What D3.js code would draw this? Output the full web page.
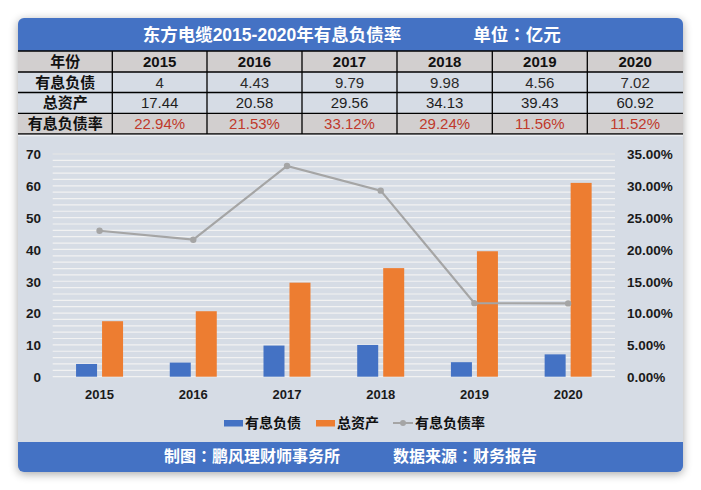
<!DOCTYPE html>
<html><head><meta charset="utf-8">
<script src="https://cdn.jsdelivr.net/npm/d3@7"></script>
<style>
html,body{margin:0;padding:0;background:#fff;}
svg{display:block;}
text{font-family:"Liberation Sans","Noto Sans CJK SC",Arial,sans-serif;}
</style></head>
<body>
<svg id="c" width="701" height="490"></svg>
<script>
const years = ["2015","2016","2017","2018","2019","2020"];
const debt = [4, 4.43, 9.79, 9.98, 4.56, 7.02];
const assets = [17.44, 20.58, 29.56, 34.13, 39.43, 60.92];
const ratio = [22.94, 21.53, 33.12, 29.24, 11.56, 11.52];
const debtLabels = ["4","4.43","9.79","9.98","4.56","7.02"];
const assetLabels = ["17.44","20.58","29.56","34.13","39.43","60.92"];
const ratioLabels = ["22.94%","21.53%","33.12%","29.24%","11.56%","11.52%"];
const leftTicks = [0,10,20,30,40,50,60,70];
const rightTicks = [0,5,10,15,20,25,30,35];
const rowNames = ["年份","有息负债","总资产","有息负债率"];
const seriesNames = ["有息负债","总资产","有息负债率"];
const title = "东方电缆2015-2020年有息负债率";
const unit = ["单位","：","亿元"];
const footL = ["制图","：","鹏风理财师事务所"];
const footR = ["数据来源","：","财务报告"];

const svg = d3.select("#c");
const blue = "#4472C4", orange = "#ED7D31", gray = "#A5A5A5";
const L = 18, R = 683, T = 18, B = 472;

const defs = svg.append("defs");
const f = defs.append("filter").attr("id","sh").attr("x","-10%").attr("y","-10%").attr("width","120%").attr("height","120%");
f.append("feGaussianBlur").attr("in","SourceAlpha").attr("stdDeviation",5);
f.append("feOffset").attr("dx",0).attr("dy",2).attr("result","b");
f.append("feComponentTransfer").append("feFuncA").attr("type","linear").attr("slope",0.35);
const m = f.append("feMerge"); m.append("feMergeNode"); m.append("feMergeNode").attr("in","SourceGraphic");
const clip = defs.append("clipPath").attr("id","card");
clip.append("rect").attr("x",L).attr("y",T).attr("width",R-L).attr("height",B-T).attr("rx",6);

svg.append("rect").attr("x",L).attr("y",T).attr("width",R-L).attr("height",B-T).attr("rx",6)
  .attr("fill","#d6dce5").attr("filter","url(#sh)");
const g = svg.append("g").attr("clip-path","url(#card)");

function colonText(parent, xx, yy, parts, size){
  const t = parent.append("text").attr("x",xx).attr("y",yy).attr("text-anchor","middle").attr("fill","#fff")
    .attr("font-size",size).attr("font-weight","bold");
  t.append("tspan").text(parts[0]);
  t.append("tspan").style("font-family","'Noto Sans CJK JP'").text(parts[1]);
  t.append("tspan").text(parts[2]);
  return t;
}

// header
g.append("rect").attr("x",L).attr("y",T).attr("width",R-L).attr("height",33).attr("fill",blue);
g.append("text").attr("x",272).attr("y",40.5).attr("text-anchor","middle").attr("fill","#fff")
  .attr("font-size",17.5).attr("font-weight","bold").text(title);
colonText(g, 517, 40.5, unit, 17.5);

// table
const colX = [18,112.3,207,302,397,492.3,587.3,683];
const rowY = [51,72,92.5,113.3,134];
const rows = [
  {cells: years, bg:"#d2cfcf", color:"#111", bold:true},
  {cells: debtLabels, bg:"#d6dce5", color:"#2a2a2a", bold:false},
  {cells: assetLabels, bg:"#d6dce5", color:"#1e1e1e", bold:false},
  {cells: ratioLabels, bg:"#d2cfcf", color:"#c0392b", bold:false}
];
rows.forEach((r,i)=>{
  const y0 = rowY[i], y1 = rowY[i+1];
  g.append("rect").attr("x",L).attr("y",y0).attr("width",R-L).attr("height",y1-y0).attr("fill",r.bg);
  g.append("text").attr("x",(colX[0]+colX[1])/2).attr("y",(y0+y1)/2+5.5).attr("text-anchor","middle")
    .attr("font-size",15).attr("font-weight","bold").attr("fill","#111").text(rowNames[i]);
  r.cells.forEach((c,j)=>{
    g.append("text").attr("x",(colX[j+1]+colX[j+2])/2).attr("y",(y0+y1)/2+5.5).attr("text-anchor","middle")
      .attr("font-size",15).attr("font-weight",r.bold?"bold":"normal").attr("fill",r.color).text(c);
  });
});
rowY.forEach(y=>g.append("line").attr("x1",L).attr("x2",R).attr("y1",y).attr("y2",y).attr("stroke","#000").attr("stroke-width",1.3));
colX.slice(1,-1).forEach(x=>g.append("line").attr("x1",x).attr("x2",x).attr("y1",rowY[0]).attr("y2",rowY[4]).attr("stroke","#000").attr("stroke-width",1.3));
g.append("line").attr("x1",L).attr("x2",R).attr("y1",135.5).attr("y2",135.5).attr("stroke","#eef0f4").attr("stroke-width",1.5);

// chart
const px0 = 52.7, px1 = 615, py0 = 376.7, py1 = 154;
const x = d3.scaleBand().domain(years).range([px0,px1]).padding(0);
const yL = d3.scaleLinear().domain([0,70]).range([py0,py1]);
const yR = d3.scaleLinear().domain([0,35]).range([py0,py1]);

d3.range(0,71,2).forEach(v=>{
  g.append("line").attr("x1",px0).attr("x2",px1).attr("y1",yL(v)).attr("y2",yL(v))
    .attr("stroke", v===70?"#e6e6e6":"#f2f2f2").attr("stroke-width",1.2);
});

const yAxisL = d3.axisLeft(yL).tickValues(leftTicks).tickSize(0).tickPadding(0);
const aL = g.append("g").attr("transform",`translate(41,0)`).call(yAxisL);
aL.select(".domain").remove();
aL.selectAll("text").attr("font-size",13.5).attr("font-weight","bold").attr("fill","#1a1a1a").attr("dy","0.36em");

const yAxisR = d3.axisRight(yR).tickValues(rightTicks).tickSize(0).tickPadding(0).tickFormat(d=>d.toFixed(2)+"%");
const aR = g.append("g").attr("transform",`translate(627,0)`).call(yAxisR);
aR.select(".domain").remove();
aR.selectAll("text").attr("font-size",13.5).attr("font-weight","bold").attr("fill","#1a1a1a").attr("dy","0.36em");

const xAxis = d3.axisBottom(x).tickSize(0).tickPadding(0);
const aX = g.append("g").attr("transform",`translate(0,${py0})`).call(xAxis);
aX.select(".domain").remove();
aX.selectAll("text").attr("font-size",13).attr("font-weight","bold").attr("fill","#1a1a1a").attr("dy","1.3em").attr("y",5);

const bw = 21, gap = 5;
g.selectAll(".bd").data(years).enter().append("rect")
  .attr("x",d=>x(d)+x.bandwidth()/2-gap/2-bw).attr("width",bw)
  .attr("y",(d,i)=>yL(debt[i])).attr("height",(d,i)=>py0-yL(debt[i])).attr("fill",blue);
g.selectAll(".ba").data(years).enter().append("rect")
  .attr("x",d=>x(d)+x.bandwidth()/2+gap/2).attr("width",bw)
  .attr("y",(d,i)=>yL(assets[i])).attr("height",(d,i)=>py0-yL(assets[i])).attr("fill",orange);

const line = d3.line().x((d,i)=>x(years[i])+x.bandwidth()/2).y(d=>yR(d));
g.append("path").datum(ratio).attr("d",line).attr("fill","none").attr("stroke",gray).attr("stroke-width",2.2);
g.selectAll(".pt").data(ratio).enter().append("circle")
  .attr("cx",(d,i)=>x(years[i])+x.bandwidth()/2).attr("cy",d=>yR(d)).attr("r",3.2).attr("fill",gray);

// legend
const ly = 423;
g.append("rect").attr("x",224).attr("y",ly-3).attr("width",19).attr("height",6.5).attr("fill",blue);
g.append("text").attr("x",245).attr("y",ly+5).attr("font-size",14).attr("font-weight","bold").attr("fill","#111").text(seriesNames[0]);
g.append("rect").attr("x",316).attr("y",ly-3).attr("width",19).attr("height",6.5).attr("fill",orange);
g.append("text").attr("x",337).attr("y",ly+5).attr("font-size",14).attr("font-weight","bold").attr("fill","#111").text(seriesNames[1]);
g.append("line").attr("x1",393).attr("x2",413).attr("y1",ly).attr("y2",ly).attr("stroke",gray).attr("stroke-width",2);
g.append("circle").attr("cx",403).attr("cy",ly).attr("r",3).attr("fill",gray);
g.append("text").attr("x",415).attr("y",ly+5).attr("font-size",14).attr("font-weight","bold").attr("fill","#111").text(seriesNames[2]);

// footer
g.append("rect").attr("x",L).attr("y",442).attr("width",R-L).attr("height",B-442).attr("fill",blue);
colonText(g, 252, 462, footL, 16);
colonText(g, 465, 462, footR, 16);
</script>
</body></html>
